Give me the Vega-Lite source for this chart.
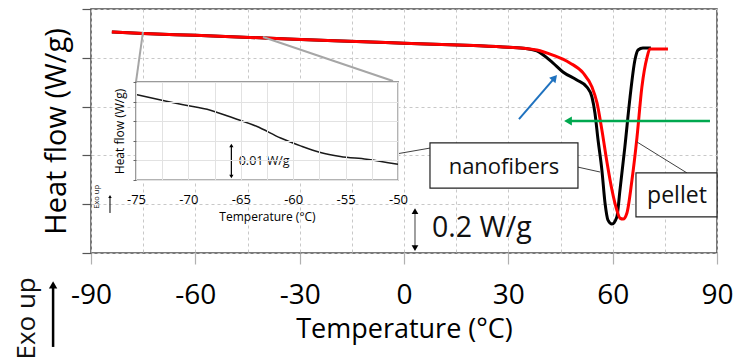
{
  "$schema": "https://vega.github.io/schema/vega-lite/v6.json",
  "width": 626,
  "height": 244,
  "autosize": {"type": "none"},
  "padding": {"left": 91, "top": 9, "right": 19, "bottom": 108},
  "background": "white",
  "config": {
    "view": {"stroke": "#4d4d4d", "strokeWidth": 1.5},
    "font": "Open Sans",
    "axis": {"labelFont": "Open Sans", "titleFont": "Open Sans", "titleFontWeight": "normal", "labelColor": "black", "titleColor": "black"}
  },
  "datasets": {
    "curves": [
      {"series": "nanofibers", "T": -84, "hf": 0.906},
      {"series": "nanofibers", "T": -75, "hf": 0.900},
      {"series": "nanofibers", "T": -60, "hf": 0.892},
      {"series": "nanofibers", "T": -40, "hf": 0.881},
      {"series": "nanofibers", "T": -20, "hf": 0.870},
      {"series": "nanofibers", "T": 0, "hf": 0.860},
      {"series": "nanofibers", "T": 20, "hf": 0.850},
      {"series": "nanofibers", "T": 30, "hf": 0.843},
      {"series": "nanofibers", "T": 35, "hf": 0.838},
      {"series": "nanofibers", "T": 38.2, "hf": 0.828},
      {"series": "nanofibers", "T": 42.8, "hf": 0.779},
      {"series": "nanofibers", "T": 45.7, "hf": 0.742},
      {"series": "nanofibers", "T": 49.7, "hf": 0.709},
      {"series": "nanofibers", "T": 52.6, "hf": 0.68},
      {"series": "nanofibers", "T": 54.05, "hf": 0.639},
      {"series": "nanofibers", "T": 54.9, "hf": 0.574},
      {"series": "nanofibers", "T": 55.8, "hf": 0.463},
      {"series": "nanofibers", "T": 56.9, "hf": 0.34},
      {"series": "nanofibers", "T": 57.8, "hf": 0.205},
      {"series": "nanofibers", "T": 58.65, "hf": 0.135},
      {"series": "nanofibers", "T": 59.8, "hf": 0.119},
      {"series": "nanofibers", "T": 61.2, "hf": 0.148},
      {"series": "nanofibers", "T": 62.1, "hf": 0.258},
      {"series": "nanofibers", "T": 63.5, "hf": 0.434},
      {"series": "nanofibers", "T": 65.0, "hf": 0.639},
      {"series": "nanofibers", "T": 66.4, "hf": 0.791},
      {"series": "nanofibers", "T": 67.3, "hf": 0.832},
      {"series": "nanofibers", "T": 68.7, "hf": 0.84},
      {"series": "nanofibers", "T": 71, "hf": 0.84},
      {"series": "pellet", "T": -84, "hf": 0.906},
      {"series": "pellet", "T": -75, "hf": 0.900},
      {"series": "pellet", "T": -60, "hf": 0.892},
      {"series": "pellet", "T": -40, "hf": 0.881},
      {"series": "pellet", "T": -20, "hf": 0.870},
      {"series": "pellet", "T": 0, "hf": 0.860},
      {"series": "pellet", "T": 20, "hf": 0.850},
      {"series": "pellet", "T": 30, "hf": 0.843},
      {"series": "pellet", "T": 35, "hf": 0.838},
      {"series": "pellet", "T": 38.2, "hf": 0.832},
      {"series": "pellet", "T": 42.8, "hf": 0.811},
      {"series": "pellet", "T": 47.7, "hf": 0.779},
      {"series": "pellet", "T": 51.5, "hf": 0.738},
      {"series": "pellet", "T": 54.05, "hf": 0.68},
      {"series": "pellet", "T": 55.5, "hf": 0.615},
      {"series": "pellet", "T": 56.9, "hf": 0.504},
      {"series": "pellet", "T": 58.4, "hf": 0.369},
      {"series": "pellet", "T": 59.8, "hf": 0.258},
      {"series": "pellet", "T": 61.2, "hf": 0.176},
      {"series": "pellet", "T": 62.1, "hf": 0.143},
      {"series": "pellet", "T": 63.0, "hf": 0.139},
      {"series": "pellet", "T": 64.1, "hf": 0.164},
      {"series": "pellet", "T": 65.55, "hf": 0.299},
      {"series": "pellet", "T": 67.0, "hf": 0.475},
      {"series": "pellet", "T": 68.4, "hf": 0.68},
      {"series": "pellet", "T": 69.9, "hf": 0.803},
      {"series": "pellet", "T": 70.7, "hf": 0.836},
      {"series": "pellet", "T": 75.9, "hf": 0.836}
    ],
    "inset": [
      {"T": -75, "hf": 0.0218},
      {"T": -72.1, "hf": 0.0201},
      {"T": -70.5, "hf": 0.0192},
      {"T": -67.9, "hf": 0.0178},
      {"T": -65.7, "hf": 0.0158},
      {"T": -63.5, "hf": 0.0137},
      {"T": -61.2, "hf": 0.0107},
      {"T": -59.3, "hf": 0.0087},
      {"T": -57.4, "hf": 0.0070},
      {"T": -55.5, "hf": 0.0060},
      {"T": -53, "hf": 0.0053},
      {"T": -50, "hf": 0.0040}
    ],
    "segments": [
      {"id": "zoom", "T": -75.05, "hf": 0.906, "T2": -77.06, "hf2": 0.701},
      {"id": "zoom", "T": -40.55, "hf": 0.885, "T2": -3.17, "hf2": 0.705},
      {"id": "leader", "T": -10.64, "hf": 0.385, "T2": 7.47, "hf2": 0.43},
      {"id": "leader", "T": 50.02, "hf": 0.352, "T2": 56.35, "hf2": 0.332},
      {"id": "leader", "T": 81.37, "hf": 0.328, "T2": 66.99, "hf2": 0.455},
      {"id": "blue", "T": 33.06, "hf": 0.549, "T2": 43.32, "hf2": 0.718},
      {"id": "green", "T": 87.98, "hf": 0.541, "T2": 47.15, "hf2": 0.541},
      {"id": "scale", "T": 3.16, "hf": 0.02, "T2": 3.16, "hf2": 0.172},
      {"id": "exo", "T": -100.9, "hf": -0.385, "T2": -100.9, "hf2": -0.131},
      {"id": "exosmall", "T": -84.54, "hf": 0.164, "T2": -84.54, "hf2": 0.23}
    ],
    "heads": [
      {"id": "blue", "T": 43.32, "hf": 0.718},
      {"id": "green", "T": 47.15, "hf": 0.541},
      {"id": "scaleup", "T": 3.16, "hf": 0.172},
      {"id": "scaledown", "T": 3.16, "hf": 0.02},
      {"id": "exo", "T": -100.9, "hf": -0.131},
      {"id": "exosmall", "T": -84.54, "hf": 0.232}
    ],
    "boxes": [
      {"id": "nanofibers", "T": 7.47, "hf": 0.451, "T2": 50.02, "hf2": 0.266},
      {"id": "pellet", "T": 66.7, "hf": 0.328, "T2": 90, "hf2": 0.148}
    ],
    "labels": [
      {"id": "nanofibers", "text": "nanofibers", "T": 28.75, "hf": 0.352},
      {"id": "pellet", "text": "pellet", "T": 78.49, "hf": 0.234},
      {"id": "scale", "text": "0.2 W/g", "T": 8.05, "hf": 0.102},
      {"id": "exo", "text": "Exo up", "T": -108.4, "hf": -0.268},
      {"id": "exosmall", "text": "Exo up", "T": -88.27, "hf": 0.23}
    ],
    "insetsegments": [
      {"id": "scale", "T": -65.9, "hf": 0.0009, "T2": -65.9, "hf2": 0.0088}
    ],
    "insetheads": [
      {"id": "up", "T": -65.9, "hf": 0.0088},
      {"id": "down", "T": -65.9, "hf": 0.0009}
    ],
    "insetlabels": [
      {"text": "0.01 W/g", "T": -65.2, "hf": 0.00485}
    ]
  },
  "layer": [
    {
      "layer": [
        {
          "data": {"name": "curves"},
          "transform": [{"filter": "datum.series === 'nanofibers'"}],
          "mark": {"type": "line", "color": "#000000", "strokeWidth": 3, "interpolate": "monotone"},
          "encoding": {
            "x": {"field": "T", "type": "quantitative", "scale": {"domain": [-90, 90], "nice": false, "zero": false},
              "axis": {"values": [-90, -75, -60, -45, -30, -15, 0, 15, 30, 45, 60, 75, 90],
                "labelExpr": "datum.value % 30 === 0 ? '' + datum.value : ''",
                "tickOpacity": {"condition": {"test": "datum.value % 30 !== 0", "value": 0}, "value": 1},
                "grid": true, "gridDash": [3, 3], "gridColor": "#c8c8c8", "gridWidth": 1,
                "domain": false, "tickSize": 11, "tickColor": "#b0b0b0", "tickWidth": 1.2,
                "labelFontSize": 28, "labelPadding": 17, "labelFlush": false, "labelOverlap": false,
                "title": "Temperature (°C)", "titleFontSize": 27, "titlePadding": 7}},
            "y": {"field": "hf", "type": "quantitative", "scale": {"domain": [0, 1], "nice": false, "zero": false},
              "axis": {"values": [0, 0.2, 0.4, 0.6, 0.8, 1], "labels": false,
                "grid": true, "gridDash": [3, 3], "gridColor": "#c8c8c8", "gridWidth": 1,
                "domain": false, "tickSize": 9, "tickColor": "#555555", "tickWidth": 1.2,
                "title": "Heat flow (W/g)", "titleFontSize": 29, "titlePadding": 10}}
          }
        },
        {
          "data": {"name": "curves"},
          "transform": [{"filter": "datum.series === 'pellet'"}],
          "mark": {"type": "line", "color": "#ff0000", "strokeWidth": 3, "interpolate": "monotone"},
          "encoding": {
            "x": {"field": "T", "type": "quantitative"},
            "y": {"field": "hf", "type": "quantitative"}
          }
        },
        {
          "data": {"name": "segments"},
          "transform": [{"filter": "datum.id === 'zoom'"}],
          "mark": {"type": "rule", "color": "#a6a6a6", "strokeWidth": 2},
          "encoding": {
            "x": {"field": "T", "type": "quantitative"}, "y": {"field": "hf", "type": "quantitative"},
            "x2": {"field": "T2"}, "y2": {"field": "hf2"}
          }
        },
        {
          "data": {"name": "segments"},
          "transform": [{"filter": "datum.id === 'leader'"}],
          "mark": {"type": "rule", "color": "#404040", "strokeWidth": 1},
          "encoding": {
            "x": {"field": "T", "type": "quantitative"}, "y": {"field": "hf", "type": "quantitative"},
            "x2": {"field": "T2"}, "y2": {"field": "hf2"}
          }
        },
        {
          "data": {"name": "segments"},
          "transform": [{"filter": "datum.id === 'blue'"}],
          "mark": {"type": "rule", "color": "#1f72bf", "strokeWidth": 2},
          "encoding": {
            "x": {"field": "T", "type": "quantitative"}, "y": {"field": "hf", "type": "quantitative"},
            "x2": {"field": "T2"}, "y2": {"field": "hf2"}
          }
        },
        {
          "data": {"name": "heads"},
          "transform": [{"filter": "datum.id === 'blue'"}],
          "mark": {"type": "point", "shape": "triangle-up", "angle": 41, "filled": true, "color": "#1f72bf", "size": 70, "opacity": 1},
          "encoding": {"x": {"field": "T", "type": "quantitative"}, "y": {"field": "hf", "type": "quantitative"}}
        },
        {
          "data": {"name": "segments"},
          "transform": [{"filter": "datum.id === 'green'"}],
          "mark": {"type": "rule", "color": "#00a84f", "strokeWidth": 2.5},
          "encoding": {
            "x": {"field": "T", "type": "quantitative"}, "y": {"field": "hf", "type": "quantitative"},
            "x2": {"field": "T2"}, "y2": {"field": "hf2"}
          }
        },
        {
          "data": {"name": "heads"},
          "transform": [{"filter": "datum.id === 'green'"}],
          "mark": {"type": "point", "shape": "triangle-left", "filled": true, "color": "#00a84f", "size": 80, "opacity": 1},
          "encoding": {"x": {"field": "T", "type": "quantitative"}, "y": {"field": "hf", "type": "quantitative"}}
        },
        {
          "data": {"name": "segments"},
          "transform": [{"filter": "datum.id === 'scale'"}],
          "mark": {"type": "rule", "color": "#808080", "strokeWidth": 1.5},
          "encoding": {
            "x": {"field": "T", "type": "quantitative"}, "y": {"field": "hf", "type": "quantitative"},
            "x2": {"field": "T2"}, "y2": {"field": "hf2"}
          }
        },
        {
          "data": {"name": "heads"},
          "transform": [{"filter": "datum.id === 'scaleup'"}],
          "mark": {"type": "point", "shape": "triangle-up", "filled": true, "color": "#000000", "size": 45, "opacity": 1},
          "encoding": {"x": {"field": "T", "type": "quantitative"}, "y": {"field": "hf", "type": "quantitative"}}
        },
        {
          "data": {"name": "heads"},
          "transform": [{"filter": "datum.id === 'scaledown'"}],
          "mark": {"type": "point", "shape": "triangle-down", "filled": true, "color": "#000000", "size": 45, "opacity": 1},
          "encoding": {"x": {"field": "T", "type": "quantitative"}, "y": {"field": "hf", "type": "quantitative"}}
        },
        {
          "data": {"name": "segments"},
          "transform": [{"filter": "datum.id === 'exo'"}],
          "mark": {"type": "rule", "color": "#000000", "strokeWidth": 2.5},
          "encoding": {
            "x": {"field": "T", "type": "quantitative"}, "y": {"field": "hf", "type": "quantitative"},
            "x2": {"field": "T2"}, "y2": {"field": "hf2"}
          }
        },
        {
          "data": {"name": "heads"},
          "transform": [{"filter": "datum.id === 'exo'"}],
          "mark": {"type": "point", "shape": "triangle-up", "filled": true, "color": "#000000", "size": 70, "opacity": 1},
          "encoding": {"x": {"field": "T", "type": "quantitative"}, "y": {"field": "hf", "type": "quantitative"}}
        },
        {
          "data": {"name": "segments"},
          "transform": [{"filter": "datum.id === 'exosmall'"}],
          "mark": {"type": "rule", "color": "#000000", "strokeWidth": 1},
          "encoding": {
            "x": {"field": "T", "type": "quantitative"}, "y": {"field": "hf", "type": "quantitative"},
            "x2": {"field": "T2"}, "y2": {"field": "hf2"}
          }
        },
        {
          "data": {"name": "heads"},
          "transform": [{"filter": "datum.id === 'exosmall'"}],
          "mark": {"type": "point", "shape": "triangle-up", "filled": true, "color": "#000000", "size": 12, "opacity": 1},
          "encoding": {"x": {"field": "T", "type": "quantitative"}, "y": {"field": "hf", "type": "quantitative"}}
        },
        {
          "data": {"name": "boxes"},
          "mark": {"type": "rect", "fill": "white", "stroke": "#222222", "strokeWidth": 1.2},
          "encoding": {
            "x": {"field": "T", "type": "quantitative"}, "y": {"field": "hf", "type": "quantitative"},
            "x2": {"field": "T2"}, "y2": {"field": "hf2"}
          }
        },
        {
          "data": {"name": "labels"},
          "transform": [{"filter": "datum.id === 'nanofibers'"}],
          "mark": {"type": "text", "font": "Open Sans", "fontSize": 22, "align": "center", "baseline": "middle", "color": "#111111"},
          "encoding": {"x": {"field": "T", "type": "quantitative"}, "y": {"field": "hf", "type": "quantitative"}, "text": {"field": "text"}}
        },
        {
          "data": {"name": "labels"},
          "transform": [{"filter": "datum.id === 'pellet'"}],
          "mark": {"type": "text", "font": "Open Sans", "fontSize": 23, "align": "center", "baseline": "middle", "color": "#111111"},
          "encoding": {"x": {"field": "T", "type": "quantitative"}, "y": {"field": "hf", "type": "quantitative"}, "text": {"field": "text"}}
        },
        {
          "data": {"name": "labels"},
          "transform": [{"filter": "datum.id === 'scale'"}],
          "mark": {"type": "text", "font": "Open Sans", "fontSize": 28.5, "align": "left", "baseline": "middle", "color": "#111111"},
          "encoding": {"x": {"field": "T", "type": "quantitative"}, "y": {"field": "hf", "type": "quantitative"}, "text": {"field": "text"}}
        },
        {
          "data": {"name": "labels"},
          "transform": [{"filter": "datum.id === 'exo'"}],
          "mark": {"type": "text", "font": "Open Sans", "fontSize": 26, "align": "center", "baseline": "middle", "angle": 270, "color": "#111111"},
          "encoding": {"x": {"field": "T", "type": "quantitative"}, "y": {"field": "hf", "type": "quantitative"}, "text": {"field": "text"}}
        },
        {
          "data": {"name": "labels"},
          "transform": [{"filter": "datum.id === 'exosmall'"}],
          "mark": {"type": "text", "font": "Open Sans", "fontSize": 7.5, "align": "center", "baseline": "middle", "angle": 270, "color": "#111111"},
          "encoding": {"x": {"field": "T", "type": "quantitative"}, "y": {"field": "hf", "type": "quantitative"}, "text": {"field": "text"}}
        }
      ]
    },
    {
      "layer": [
        {
          "data": {"name": "inset"},
          "mark": {"type": "rect", "fill": "white", "stroke": "#9a9a9a", "strokeWidth": 1.5},
          "encoding": {
            "x": {"datum": -75, "type": "quantitative",
              "scale": {"domain": [-75, -50], "range": [45, 307], "nice": false, "zero": false},
              "axis": {"orient": "bottom", "offset": -73, "zindex": 1,
                "values": [-75, -72.5, -70, -67.5, -65, -62.5, -60, -57.5, -55, -52.5, -50],
                "labelExpr": "datum.value % 5 === 0 ? '' + datum.value : ''",
                "grid": true, "gridColor": "#e2e2e2", "gridWidth": 1,
                "ticks": false, "domain": false,
                "labelFontSize": 13, "labelPadding": 13, "labelFlush": false, "labelOverlap": false,
                "title": "Temperature (°C)", "titleFontSize": 12, "titlePadding": 5}},
            "x2": {"datum": -50},
            "y": {"datum": 0, "type": "quantitative",
              "scale": {"domain": [0, 0.025], "range": [171, 73], "nice": false, "zero": false},
              "axis": {"orient": "left", "offset": -45, "zindex": 1,
                "values": [0, 0.005, 0.01, 0.015, 0.02, 0.025], "labels": false,
                "grid": true, "gridColor": "#e2e2e2", "gridWidth": 1,
                "ticks": true, "tickSize": 3, "tickColor": "#666666", "domain": false,
                "title": "Heat flow (W/g)", "titleFontSize": 12, "titlePadding": 6}},
            "y2": {"datum": 0.025}
          }
        },
        {
          "data": {"name": "inset"},
          "mark": {"type": "line", "color": "#1a1a1a", "strokeWidth": 1.5, "interpolate": "monotone"},
          "encoding": {"x": {"field": "T", "type": "quantitative"}, "y": {"field": "hf", "type": "quantitative"}}
        },
        {
          "data": {"name": "insetsegments"},
          "mark": {"type": "rule", "color": "#000000", "strokeWidth": 1.2},
          "encoding": {
            "x": {"field": "T", "type": "quantitative"}, "y": {"field": "hf", "type": "quantitative"},
            "x2": {"field": "T2"}, "y2": {"field": "hf2"}
          }
        },
        {
          "data": {"name": "insetheads"},
          "transform": [{"filter": "datum.id === 'up'"}],
          "mark": {"type": "point", "shape": "triangle-up", "filled": true, "color": "#000000", "size": 18, "opacity": 1},
          "encoding": {"x": {"field": "T", "type": "quantitative"}, "y": {"field": "hf", "type": "quantitative"}}
        },
        {
          "data": {"name": "insetheads"},
          "transform": [{"filter": "datum.id === 'down'"}],
          "mark": {"type": "point", "shape": "triangle-down", "filled": true, "color": "#000000", "size": 18, "opacity": 1},
          "encoding": {"x": {"field": "T", "type": "quantitative"}, "y": {"field": "hf", "type": "quantitative"}}
        },
        {
          "data": {"name": "insetlabels"},
          "mark": {"type": "text", "font": "Open Sans", "fontSize": 12.5, "align": "left", "baseline": "middle", "color": "#111111"},
          "encoding": {"x": {"field": "T", "type": "quantitative"}, "y": {"field": "hf", "type": "quantitative"}, "text": {"field": "text"}}
        }
      ]
    }
  ],
  "resolve": {"scale": {"x": "independent", "y": "independent"}, "axis": {"x": "independent", "y": "independent"}}
}
